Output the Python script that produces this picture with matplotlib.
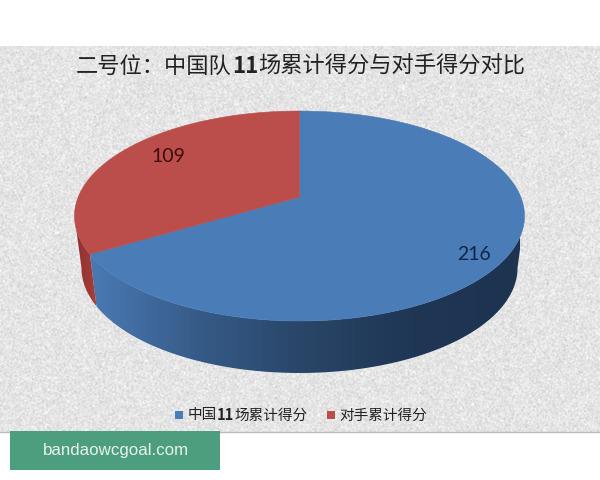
#!/usr/bin/env python3
'''
Pie drawn by hand with a tilted top, an offset centre and a shaded rim,
the way the spreadsheet 3D pie looks. Saved as out.png.
'''

import numpy as np
import matplotlib
matplotlib.use("Agg")
import matplotlib.pyplot as plt
from matplotlib.colors import LinearSegmentedColormap
from matplotlib.patches import PathPatch, Polygon, Rectangle
from matplotlib.path import Path

CJK = ['Noto Sans CJK SC', 'DejaVu Sans']
plt.rcParams['font.family'] = CJK

# data
CATEGORIES = ["中国11场累计得分", "对手累计得分"]
VALUES = [216, 109]
TITLE_PARTS = ["二号位：中国队", "11", "场累计得分与对手得分对比"]
WATERMARK = "bandaowcgoal.com"

BLUE = "#4a7cb7"
RED = "#bb4e4b"

# pie geometry, in pixels
TOP_CX, TOP_CY, TOP_A, TOP_B = 299.5, 216, 225, 105
BOT_CX, BOT_CY, BOT_A, BOT_B = 299.5, 268, 218, 105
TILT = 0.181  # how far the centre of the pie sits above the middle of the ellipse


def rimAngle(clock):
    # clockwise degrees from 12 o'clock -> angle on the drawn ellipse
    u, v = np.sin(np.radians(clock)), np.cos(np.radians(clock))
    y = (v + TILT) / (1 + TILT * v)
    x = u * np.sqrt(1 - TILT ** 2) / (1 + TILT * v)
    return np.arctan2(y, x)


def arc(cx, cy, a, b, angles):
    return np.column_stack([cx + a * np.cos(angles), cy - b * np.sin(angles)])


def gradientSide(ax, start, stop, colors, x0, x1):
    angles = np.linspace(start, stop, 120)
    pts = np.vstack([arc(TOP_CX, TOP_CY, TOP_A, TOP_B, angles),
                     arc(BOT_CX, BOT_CY, BOT_A, BOT_B, angles[::-1])])
    clip = PathPatch(Path(np.vstack([pts, pts[0]]), closed=True), fc="none", ec="none",
                     transform=ax.transData)
    ax.add_patch(clip)
    cmap = LinearSegmentedColormap.from_list("side", colors)
    im = ax.imshow(np.linspace(0, 1, 256)[None, :], extent=(x0, x1, 380, 200), cmap=cmap,
                   aspect="auto", zorder=2, interpolation="bilinear")
    im.set_clip_path(clip)


def chainText(ax, x, y, parts, size, weights):
    # runs of text placed one after the other, the digits are bold in the original
    prev = None
    for part, weight in zip(parts, weights):
        if prev is None:
            prev = ax.text(x, y, part, fontsize=size, fontweight=weight, ha="left",
                           va="center_baseline", color="#222222", zorder=5)
        else:
            prev = ax.annotate(part, xy=(1, 0), xycoords=prev, fontsize=size, fontweight=weight,
                               ha="left", va="bottom", color="#222222", zorder=5)
    return prev


fig = plt.figure(figsize=(6, 4.8), dpi=100)
ax = fig.add_axes([0, 0, 1, 1])

# paper texture behind the chart
rng = np.random.default_rng(7)
noise = rng.normal(0, 1, (386, 600))
noise = (noise + np.roll(noise, 1, 0) + np.roll(noise, 1, 1) + np.roll(noise, (1, 1), (0, 1))) / 4
ax.imshow(np.clip(0.895 + 0.05 * noise, 0, 1), extent=(0, 600, 432, 46), cmap="gray",
          vmin=0, vmax=1, aspect="auto", zorder=0, interpolation="bilinear")
ax.add_line(plt.Line2D([0, 600], [432, 432], color="#bdbdbd", lw=1, zorder=1))

# slices run clockwise from 12 o'clock, the red one ends there
total = sum(VALUES)
redSweep = 360.0 * VALUES[1] / total
split = rimAngle(-redSweep)  # lower left point where blue and red meet, between -pi and -pi/2
apex = (TOP_CX, TOP_CY - TOP_B * TILT)

# rim
gradientSide(ax, 0, split, ["#4a7ab3", "#365b88", "#294567", "#1f3655", "#1d3350"], 90, 520)
gradientSide(ax, split, -np.pi, ["#8f322f", "#a63d3a"], 76, 96)

# top
blueAngles = np.linspace(np.pi / 2, split, 300)
redAngles = np.linspace(split, -1.5 * np.pi, 120)
ax.add_patch(Polygon(np.vstack([apex, arc(TOP_CX, TOP_CY, TOP_A, TOP_B, blueAngles)]),
                     closed=True, fc=BLUE, ec=BLUE, lw=0.4, zorder=3))
ax.add_patch(Polygon(np.vstack([apex, arc(TOP_CX, TOP_CY, TOP_A, TOP_B, redAngles)]),
                     closed=True, fc=RED, ec=RED, lw=0.4, zorder=3))

ax.text(474.5, 255, str(VALUES[0]), fontsize=14, family="Lato", color="#11254a", ha="center", va="center", zorder=5)
ax.text(168.5, 156, str(VALUES[1]), fontsize=14, family="Lato", color="#3b0d0e", ha="center", va="center", zorder=5)

chainText(ax, 76, 64, TITLE_PARTS, 16, ["normal", "bold", "normal"])

# legend
ax.add_patch(Rectangle((175, 411), 8, 8, fc=BLUE, ec="none", zorder=5))
chainText(ax, 188, 414, ["中国", "11", "场累计得分"], 10.5, ["normal", "bold", "normal"])
ax.add_patch(Rectangle((327, 411), 8, 8, fc=RED, ec="none", zorder=5))
ax.text(339, 414, CATEGORIES[1], fontsize=10.5, color="#222222", va="center_baseline", zorder=5)

# watermark strip
ax.add_patch(Rectangle((10, 431), 210, 39, fc="#4c9e7f", ec="none", zorder=6))
ax.text(115.5, 450, WATERMARK, fontsize=12.2, family="Liberation Sans", color="#e6f3ee",
        ha="center", va="center", zorder=7)

ax.set_xlim(0, 600)
ax.set_ylim(480, 0)
ax.axis("off")

fig.savefig("out.png", dpi=100, facecolor="white")
